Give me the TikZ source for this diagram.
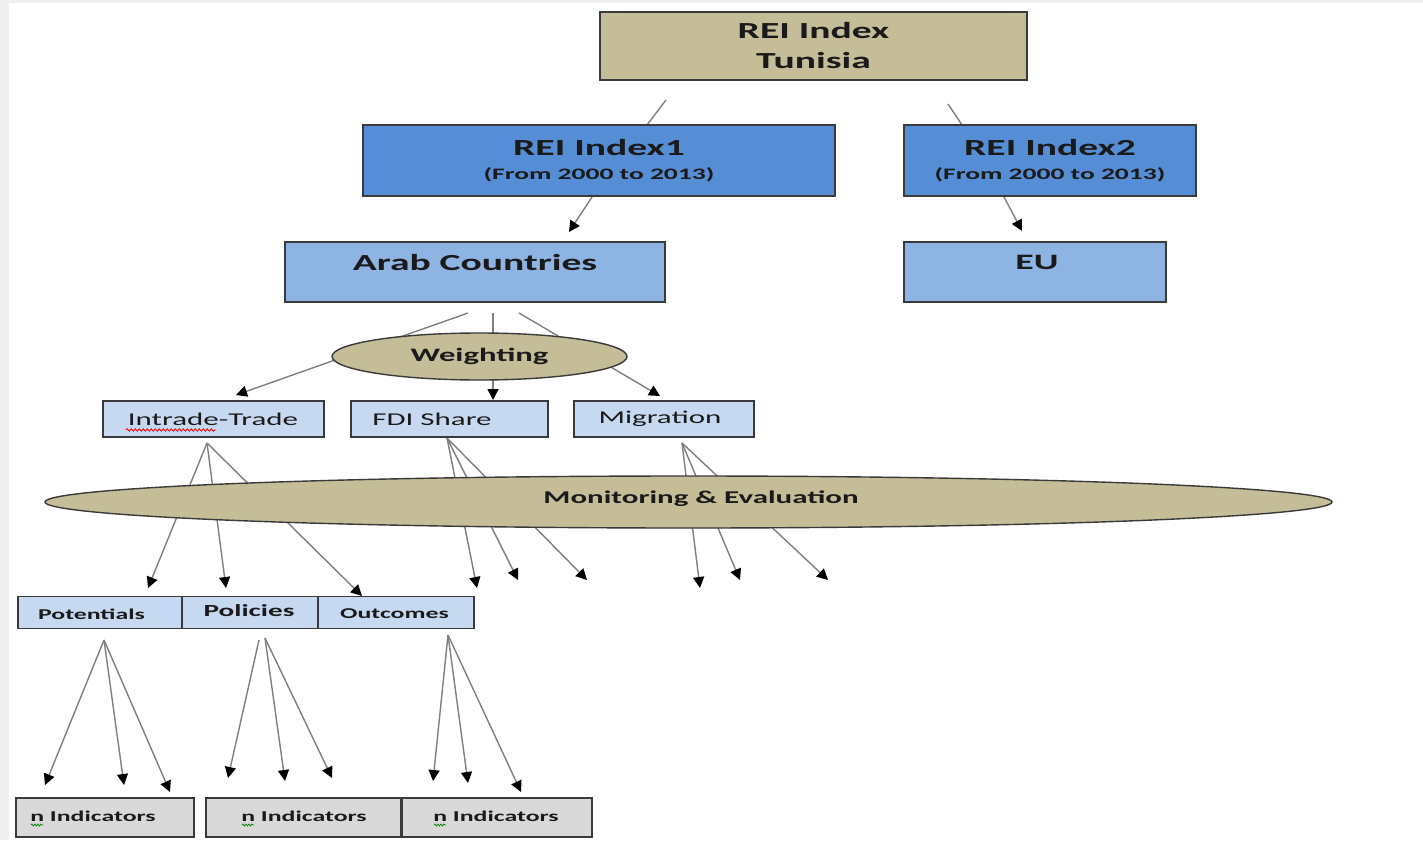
\documentclass[tikz,border=0pt]{standalone}
\usepackage{fontspec}
\setmainfont{Carlito}[FakeStretch=1.72]
\usetikzlibrary{arrows.meta,shapes.geometric,decorations.pathmorphing}
\definecolor{tanfill}{HTML}{C4BD97}
\definecolor{midblue}{HTML}{558ED5}
\definecolor{lblue}{HTML}{8EB4E3}
\definecolor{pblue}{HTML}{C6D9F1}
\definecolor{grayfill}{HTML}{D9D9D9}
\definecolor{boxline}{HTML}{3A3A3A}
\definecolor{conncol}{HTML}{7F7F7F}
\definecolor{txtcol}{HTML}{1A1A1A}
\definecolor{pagegray}{HTML}{EFEFEF}
\begin{document}
\begin{tikzpicture}[x=1pt,y=-1pt,
  box/.style={draw=boxline,line width=1.6pt,rectangle,inner sep=0pt,align=center,text=txtcol,font=\bfseries},
  oval/.style={draw=boxline,line width=1.4pt,ellipse,inner sep=0pt,fill=tanfill,text=txtcol,font=\bfseries},
  txt/.style={inner sep=0pt,text=txtcol,font=\bfseries},
  plainline/.style={draw=conncol,line width=1.4pt},
  conn/.style={draw=conncol,line width=1.4pt,-{Triangle[width=11pt,length=11pt,color=black]}}]
\useasboundingbox (0,0) rectangle (1423,840);
\fill[white] (0,0) rectangle (1423,840);
\fill[pagegray] (0,0) rectangle (9,840);
\fill[pagegray] (0,0) rectangle (1423,3);
% coordinates for connector ends
\coordinate (ta1) at (666,100); \coordinate (ta2) at (647,125);
\coordinate (tb1) at (948,104); \coordinate (tb2) at (962,125);
\coordinate (a1s) at (592,197); \coordinate (a1e) at (569,232);
\coordinate (a2s) at (1004,197); \coordinate (a2e) at (1022,231);
\coordinate (w1s) at (468,313); \coordinate (w1e) at (236,395);
\coordinate (w2s) at (493,313); \coordinate (w2e) at (493,400);
\coordinate (w3s) at (519,313); \coordinate (w3e) at (660,396);
\coordinate (io) at (207,443);
\coordinate (i1) at (148,588); \coordinate (i2) at (226,588); \coordinate (i3) at (362,596);
\coordinate (fo) at (447,438);
\coordinate (f1) at (477,588); \coordinate (f2) at (518,580); \coordinate (f3) at (587,580);
\coordinate (mo) at (682,443);
\coordinate (m1) at (700,588); \coordinate (m2) at (740,580); \coordinate (m3) at (828,580);
\coordinate (po) at (104,640);
\coordinate (p1) at (45,785); \coordinate (p2) at (124,785); \coordinate (p3) at (170,792);
\coordinate (qo1) at (259,640); \coordinate (qo2) at (265,638);
\coordinate (q1) at (228,778); \coordinate (q2) at (285,781); \coordinate (q3) at (332,778);
\coordinate (oo) at (448,635);
\coordinate (o1) at (433,781); \coordinate (o2) at (468,783); \coordinate (o3) at (521,792);
% connectors (drawn below the shapes)
\draw[plainline] (ta1) -- (ta2);
\draw[plainline] (tb1) -- (tb2);
\draw[conn] (a1s) -- (a1e);
\draw[conn] (a2s) -- (a2e);
\draw[conn] (w1s) -- (w1e);
\draw[conn] (w2s) -- (w2e);
\draw[conn] (w3s) -- (w3e);
\foreach \t in {i1,i2,i3} \draw[conn] (io) -- (\t);
\foreach \t in {f1,f2,f3} \draw[conn] (fo) -- (\t);
\foreach \t in {m1,m2,m3} \draw[conn] (mo) -- (\t);
\foreach \t in {p1,p2,p3} \draw[conn] (po) -- (\t);
\draw[conn] (qo1) -- (q1);
\draw[conn] (qo2) -- (q2);
\draw[conn] (qo2) -- (q3);
\foreach \t in {o1,o2,o3} \draw[conn] (oo) -- (\t);
% nodes
\node[box,fill=tanfill,minimum width=427,minimum height=68,font=\bfseries\fontsize{23}{30}\selectfont] (top) at (813.5,46) {REI Index\\Tunisia};
\node[box,fill=midblue,minimum width=472,minimum height=71,font=\bfseries\fontsize{23}{24}\selectfont] (idx1) at (599,160.5) {REI Index1\\{\fontsize{16}{18}\selectfont (From 2000 to 2013)}};
\node[box,fill=midblue,minimum width=292,minimum height=71,font=\bfseries\fontsize{23}{24}\selectfont] (idx2) at (1050,160.5) {REI Index2\\{\fontsize{16}{18}\selectfont (From 2000 to 2013)}};
\node[box,fill=lblue,minimum width=380,minimum height=60] (arab) at (475,272) {};
\node[txt] (arabt) at (475,263) {\fontsize{23}{28}\selectfont Arab Countries};
\node[box,fill=lblue,minimum width=262,minimum height=60] (eu) at (1035,272) {};
\node[txt] (eut) at (1037,262) {\fontsize{22}{26}\selectfont EU};
\node[oval,minimum width=295,minimum height=47] (wgt) at (479.5,356.5) {\fontsize{19}{22}\selectfont Weighting};
\node[box,fill=pblue,minimum width=221,minimum height=36] (intra) at (213.5,419) {};
\node[txt,font=\mdseries] (intrat) at (213,419) {\fontsize{18}{22}\selectfont Intrade-Trade};
\draw[red,line width=0.8pt,decorate,decoration={snake,amplitude=1.2pt,segment length=4pt}] (126,430) -- (216,430);
\node[box,fill=pblue,minimum width=197,minimum height=36] (fdi) at (449.5,419) {};
\node[txt,font=\mdseries] (fdit) at (432,419) {\fontsize{18}{22}\selectfont FDI Share};
\node[box,fill=pblue,minimum width=180,minimum height=36] (mig) at (664,419) {};
\node[txt,font=\mdseries] (migt) at (660,419) {\fontsize{18}{22}\selectfont Migration};
\node[oval,minimum width=1287,minimum height=52] (mon) at (688.5,502) {};
\node[txt] (mont) at (701,499) {\fontsize{18}{22}\selectfont Monitoring \& Evaluation};
\node[box,fill=pblue,minimum width=165,minimum height=32] (pot) at (100.5,612.5) {};
\node[txt] (pott) at (91.5,614) {\fontsize{15}{18}\selectfont Potentials};
\node[box,fill=pblue,minimum width=136,minimum height=32] (pol) at (250,612.5) {};
\node[txt] (polt) at (249,611) {\fontsize{17}{20}\selectfont Policies};
\node[box,fill=pblue,minimum width=156,minimum height=32] (out) at (396,612.5) {};
\node[txt] (outt) at (394.5,614) {\fontsize{15}{18}\selectfont Outcomes};
\node[box,fill=grayfill,line width=2pt,minimum width=178,minimum height=39] (ind1) at (105,817.5) {};
\node[txt] (ind1t) at (93,816) {\fontsize{15}{18}\selectfont n Indicators};
\node[box,fill=grayfill,line width=2pt,minimum width=195,minimum height=39] (ind2) at (303.5,817.5) {};
\node[txt] (ind2t) at (304,816) {\fontsize{15}{18}\selectfont n Indicators};
\node[box,fill=grayfill,line width=2pt,minimum width=190,minimum height=39] (ind3) at (496.5,817.5) {};
\node[txt] (ind3t) at (496,816) {\fontsize{15}{18}\selectfont n Indicators};
\foreach \x in {31,242,434} \draw[green!50!black,line width=0.7pt,decorate,decoration={snake,amplitude=1pt,segment length=3pt}] (\x,825) -- (\x+12,825);
\end{tikzpicture}
\end{document}
